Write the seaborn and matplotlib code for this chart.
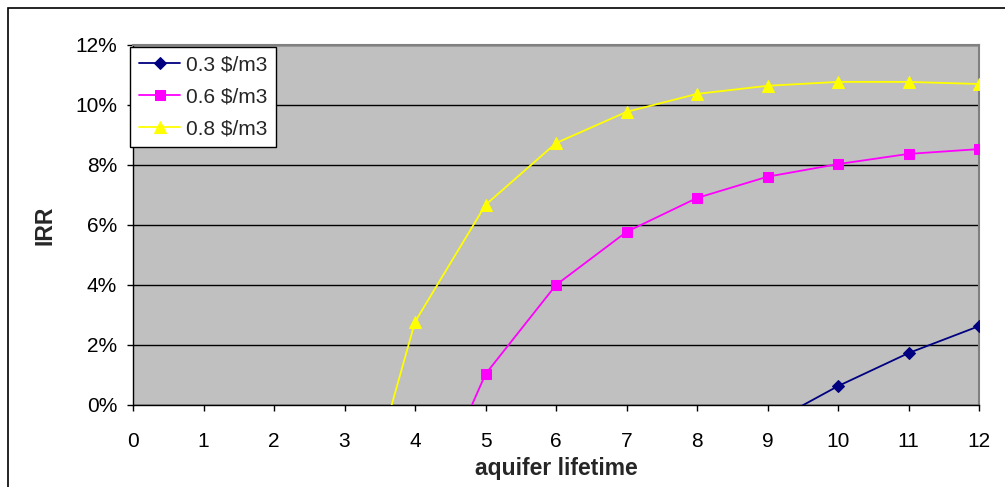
import numpy as np
import pandas as pd
import matplotlib
matplotlib.use("Agg")
import matplotlib.pyplot as plt
import seaborn as sb
from matplotlib.ticker import PercentFormatter
from matplotlib.patches import Rectangle

# IRR (%) per aquifer lifetime
lifetime_03 = [9, 10, 11, 12]
irr_03 = [-0.65, 0.63, 1.73, 2.63]

lifetime_06 = [4, 5, 6, 7, 8, 9, 10, 11, 12]
irr_06 = [-4.3, 1.03, 4.0, 5.77, 6.9, 7.61, 8.03, 8.37, 8.53]

lifetime_08 = [3, 4, 5, 6, 7, 8, 9, 10, 11, 12]
irr_08 = [-5.6, 2.77, 6.67, 8.73, 9.77, 10.37, 10.64, 10.77, 10.77, 10.7]

series_labels = ["0.3 $/m3", "0.6 $/m3", "0.8 $/m3"]
x_ticks = list(range(0, 13))
y_ticks = [0, 2, 4, 6, 8, 10, 12]

sb.set_style("white")
plt.rcParams['font.family'] = ['Liberation Sans', 'DejaVu Sans']
plt.rcParams['mathtext.default'] = 'regular'

fig = plt.figure(figsize=(10.05, 4.87), dpi=100)
ax = fig.add_axes([133/1005, 1 - 405/487, (979 - 133)/1005, (405 - 45)/487])
ax.set_facecolor('#C0C0C0')

styles = [('#000080', 'D', 6.5), ('#FF00FF', 's', 7), ('#FFFF00', '^', 8.5)]
data = [(lifetime_03, irr_03), (lifetime_06, irr_06), (lifetime_08, irr_08)]
for (xs, ys), lab, (col, mk, ms) in zip(data, series_labels, styles):
    df = pd.DataFrame({"aquifer lifetime": xs, "IRR": ys})
    sb.lineplot(data=df, x="aquifer lifetime", y="IRR", ax=ax, color=col,
                marker=mk, markersize=ms, markeredgecolor=col, linewidth=1.3,
                label=lab.replace('$', r'\$'), zorder=3)

ax.set_xlim(0, 12)
ax.set_ylim(0, 12)
ax.set_xticks(x_ticks)
ax.set_yticks(y_ticks)
ax.yaxis.set_major_formatter(PercentFormatter(decimals=0))
ax.grid(axis='y', color='black', linewidth=1)
ax.grid(axis='x', visible=False)
ax.tick_params(axis='both', direction='out', length=4.5, width=1, color='black',
               labelsize=15, labelcolor='black', bottom=True, left=True)
ax.tick_params(axis='x', pad=15)
ax.tick_params(axis='y', pad=7)
for s in ['left', 'bottom']:
    ax.spines[s].set_color('black')
    ax.spines[s].set_linewidth(1)
for s in ['top', 'right']:
    ax.spines[s].set_color('#808080')
    ax.spines[s].set_linewidth(1.5)

ax.set_xlabel("aquifer lifetime", fontsize=16.5, fontweight='bold', labelpad=4)
ax.set_ylabel("IRR", fontsize=16.5, fontweight='bold', labelpad=13)

leg = ax.legend(loc='upper left', bbox_to_anchor=(130/1005, 1 - 46.5/487),
                bbox_transform=fig.transFigure, frameon=True, fancybox=False,
                edgecolor='black', framealpha=1, fontsize=15,
                handlelength=2.0, labelspacing=0.62, borderpad=0.42,
                handletextpad=0.25, borderaxespad=0)
leg.get_frame().set_linewidth(1)

# outer chart border (cut off on the right and bottom)
fig.patches.append(Rectangle((8/1005, -0.2), 1.5, (487 - 8)/487 + 0.2,
                             transform=fig.transFigure, fill=False,
                             edgecolor='black', linewidth=1.2))

plt.savefig("out.png", dpi=100)
